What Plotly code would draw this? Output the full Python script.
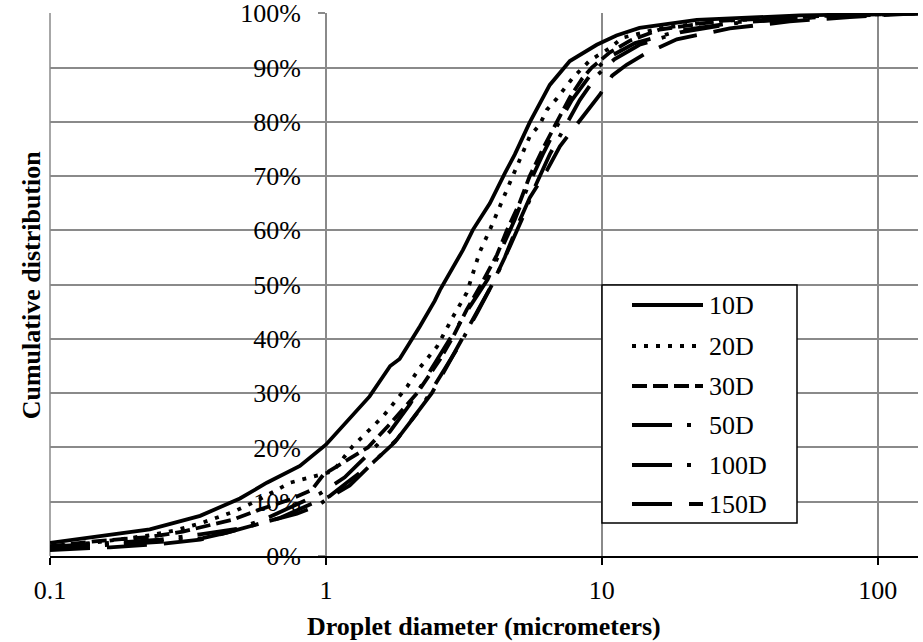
import math
import plotly.graph_objects as go

# Cumulative droplet-size distributions at several downstream distances
series_names = ["10D", "20D", "30D", "50D", "100D", "150D"]

d_10D = [0.1, 0.152, 0.230, 0.350, 0.488, 0.611, 0.805, 1.0, 1.22, 1.44, 1.71, 1.85, 2.19, 2.48, 2.59,
         3.14, 3.41, 3.93, 4.45, 4.84, 5.48, 6.48, 7.66, 9.59, 11.3, 13.7, 22.1, 52.2, 140]
c_10D = [2.4, 3.6, 4.9, 7.4, 10.6, 13.5, 16.6, 20.5, 25.3, 29.4, 35.0, 36.3, 42.3, 47.0, 49.0,
         56.4, 60.1, 65.0, 70.5, 74.0, 79.9, 86.8, 91.2, 94.2, 95.9, 97.3, 98.8, 99.6, 100]

d_20D = [0.1, 0.152, 0.230, 0.284, 0.350, 0.460, 0.553, 0.741, 1.06, 1.25, 1.61, 1.97, 2.19, 2.53, 2.89,
         3.24, 3.61, 3.93, 4.53, 4.92, 5.48, 5.96, 6.32, 6.87, 7.85, 9.05, 10.7, 11.9, 16.2, 26.8, 61.6, 140]
c_20D = [1.6, 2.6, 3.8, 4.7, 6.0, 8.1, 10.0, 13.5, 15.6, 20.2, 25.7, 31.2, 34.7, 38.6, 44.1,
         48.5, 56.0, 60.1, 67.5, 71.7, 77.3, 79.5, 82.2, 84.3, 88.1, 91.3, 93.6, 95.5, 97.2, 98.6, 99.5, 100]

d_30D = [0.1, 0.152, 0.230, 0.303, 0.460, 0.571, 0.741, 0.890, 0.98, 1.30, 1.42, 1.72, 2.14, 2.59, 2.89,
         3.24, 3.65, 4.17, 4.53, 5.03, 5.48, 6.18, 6.87, 7.66, 8.50, 9.20, 10.7, 12.7, 16.2, 26.8, 61.6, 140]
c_30D = [1.8, 2.8, 3.5, 4.5, 6.7, 8.5, 10.4, 12.2, 15.0, 18.8, 20.0, 24.5, 30.0, 36.2, 40.4,
         45.4, 50.0, 55.5, 60.0, 65.0, 70.0, 75.5, 80.0, 84.5, 88.0, 90.0, 92.8, 95.0, 97.0, 98.6, 99.5, 100]

d_50D = [0.1, 0.165, 0.251, 0.358, 0.438, 0.577, 0.785, 0.928, 1.03, 1.22, 1.51, 1.81, 2.19, 2.59, 3.06,
         3.55, 4.10, 4.64, 5.13, 5.72, 6.48, 7.34, 8.32, 9.59, 11.1, 13.7, 19.2, 31.6, 67.0, 140]
c_50D = [1.4, 2.0, 2.6, 3.3, 4.3, 6.0, 7.8, 9.2, 10.8, 13.0, 17.5, 21.5, 27.0, 33.0, 39.0,
         45.0, 51.0, 57.0, 62.0, 68.0, 74.0, 79.0, 84.0, 88.5, 91.5, 94.2, 96.5, 98.3, 99.4, 100]

d_100D = [0.1, 0.165, 0.251, 0.350, 0.476, 0.601, 0.741, 0.952, 1.17, 1.44, 1.71, 2.02, 2.38, 2.81,
          3.33, 3.86, 4.38, 4.84, 5.39, 6.11, 6.93, 7.79, 9.05, 10.5, 13.2, 19.2, 31.6, 67.0, 140]
c_100D = [1.7, 2.4, 3.0, 4.0, 5.0, 6.8, 9.0, 11.5, 14.5, 19.0, 23.0, 28.0, 34.0, 40.0,
          46.0, 51.0, 57.0, 62.0, 68.0, 74.0, 79.5, 84.0, 88.5, 91.8, 94.5, 96.8, 98.4, 99.4, 100]

d_150D = [0.1, 0.165, 0.251, 0.350, 0.476, 0.681, 0.875, 1.03, 1.19, 1.48, 1.78, 2.10, 2.42, 2.75,
          3.11, 3.55, 4.00, 4.45, 4.96, 5.48, 6.32, 7.05, 7.99, 8.90, 9.84, 10.9, 12.3, 14.3, 18.7,
          29.1, 48.0, 79.2, 140]
c_150D = [1.1, 1.6, 2.2, 3.0, 4.8, 7.0, 9.5, 11.0, 13.5, 17.2, 21.0, 26.0, 30.0, 35.0,
          40.0, 45.5, 50.0, 55.0, 61.0, 66.0, 71.0, 75.5, 79.0, 82.0, 85.0, 88.5, 90.5, 92.5, 95.2,
          97.2, 98.5, 99.3, 100]

diameters = [d_10D, d_20D, d_30D, d_50D, d_100D, d_150D]
cumulative = [c_10D, c_20D, c_30D, c_50D, c_100D, c_150D]

y_ticks = list(range(0, 101, 10))
y_tick_text = [f"{v}%" for v in y_ticks]
x_ticks = [0.1, 1, 10, 100]
x_tick_text = ["0.1", "1", "10", "100"]

# Excel-like dash patterns for each series
dash_styles = ["solid", "4px,8px", "15px,6px", "40px,15px,4px,15px", "40px,15px,4px,15px", "40px,17px"]

FONT = "Liberation Serif, Times New Roman, serif"
FS = 26
GRID = "#8a8a8a"
LINE_W = 3.8

fig = go.Figure()
for name, xs, ys, dash in zip(series_names, diameters, cumulative, dash_styles):
    fig.add_trace(go.Scatter(
        x=xs, y=ys, mode="lines", name=name,
        line=dict(color="black", width=LINE_W, dash=dash),
        showlegend=False,
    ))

x_lo, x_hi = 0.1, 140
y_axis_pos = (math.log10(1) - math.log10(x_lo)) / (math.log10(x_hi) - math.log10(x_lo))

fig.update_layout(
    width=923, height=642,
    margin=dict(l=50, r=5, t=13, b=86),
    paper_bgcolor="white", plot_bgcolor="white",
    font=dict(family=FONT, size=FS, color="black"),
    xaxis=dict(
        type="log", range=[math.log10(x_lo), math.log10(x_hi)],
        tickvals=x_ticks, ticktext=x_tick_text,
        showgrid=True, gridcolor=GRID, gridwidth=1.5,
        showline=True, linecolor="black", linewidth=1.5,
        ticks="outside", ticklen=7, tickwidth=1.5, tickcolor="black",
        ticklabelstandoff=3, automargin=False,
        zeroline=False,
    ),
    yaxis=dict(
        range=[0, 100.05], tickvals=y_ticks, ticktext=y_tick_text,
        showgrid=True, gridcolor=GRID, gridwidth=1.5,
        anchor="free", position=y_axis_pos,
        showline=True, linecolor=GRID, linewidth=1.5,
        ticks="outside", ticklen=7, tickwidth=1.5, tickcolor=GRID,
        ticklabelstandoff=12, ticklabeloverflow="allow", automargin=False,
        zeroline=False, layer="below traces",
    ),
)

# left frame edge
fig.add_shape(type="line", xref="paper", yref="paper", x0=0, x1=0, y0=0, y1=1,
              line=dict(color=GRID, width=1.5), layer="below")

# axis titles
fig.add_annotation(text="<b>Droplet diameter (micrometers)</b>", xref="paper", yref="paper",
                   x=0.5, y=-0.129, xanchor="center", yanchor="middle", showarrow=False,
                   font=dict(family=FONT, size=FS))
fig.add_annotation(text="<b>Cumulative distribution</b>", xref="paper", yref="paper",
                   x=-0.021, y=0.5, xanchor="center", yanchor="middle", textangle=-90,
                   showarrow=False, font=dict(family=FONT, size=FS))

# legend box with long line samples
W, H, L, B = 868.0, 543.0, 50.0, 556.0
def px_x(px):
    return (px - L) / W
def px_y(py):
    return (B - py) / H

fig.add_shape(type="rect", xref="paper", yref="paper",
              x0=px_x(602), x1=px_x(797), y0=px_y(523), y1=px_y(285),
              line=dict(color="black", width=1.5), fillcolor="white", layer="above")
row_centres = [305, 346, 386, 425, 465, 504]
for name, dash, py in zip(series_names, dash_styles, row_centres):
    fig.add_shape(type="line", xref="paper", yref="paper",
                  x0=px_x(632), x1=px_x(703), y0=px_y(py), y1=px_y(py),
                  line=dict(color="black", width=LINE_W, dash=dash), layer="above")
    fig.add_annotation(text=name, xref="paper", yref="paper", x=px_x(707), y=px_y(py),
                       xanchor="left", yanchor="middle", showarrow=False,
                       font=dict(family=FONT, size=FS))

fig.write_html("out.html")
